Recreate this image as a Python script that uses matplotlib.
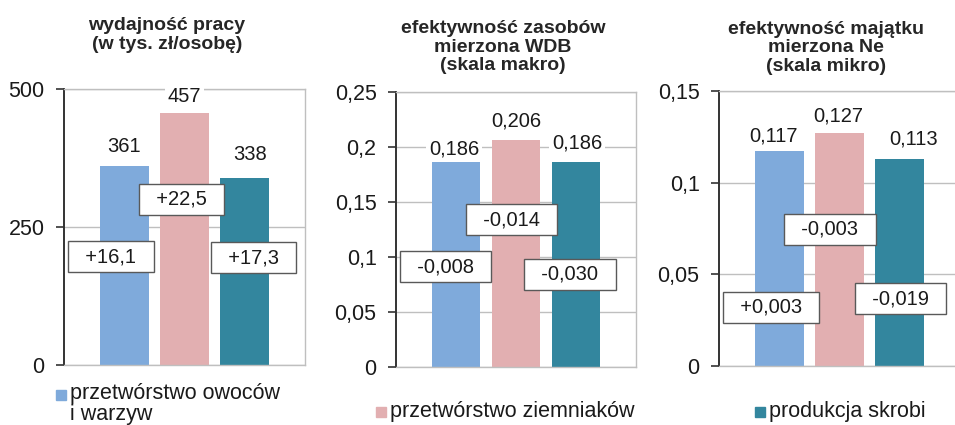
import matplotlib.pyplot as plt
from matplotlib.patches import Rectangle

plt.rcParams['font.family'] = ['Liberation Sans', 'DejaVu Sans']

# dane
kategorie = ['przetwórstwo owoców\ni warzyw', 'przetwórstwo ziemniaków', 'produkcja skrobi']
kolory = ['#7FAADB', '#E2AFB1', '#33869E']

tytuly = ['wydajność pracy\n(w tys. zł/osobę)',
          'efektywność zasobów\nmierzona WDB\n(skala makro)',
          'efektywność majątku\nmierzona Ne\n(skala mikro)']

wydajnosc = [361, 457, 338]
wdb = [0.186, 0.206, 0.186]
ne = [0.117, 0.127, 0.113]

zmiany_wydajnosc = ['+16,1', '+22,5', '+17,3']
zmiany_wdb = ['-0,008', '-0,014', '-0,030']
zmiany_ne = ['+0,003', '-0,003', '-0,019']

ticki = [[0, 250, 500],
         [0, 0.05, 0.1, 0.15, 0.2, 0.25],
         [0, 0.05, 0.1, 0.15]]
ticki_txt = [['0', '250', '500'],
             ['0', '0,05', '0,1', '0,15', '0,2', '0,25'],
             ['0', '0,05', '0,1', '0,15']]
ymax = [500, 0.25, 0.15]

# rozmieszczenie (piksele / wspolrzedne danych)
W, H = 955, 425
osie_px = [(64, 89, 305, 365), (396, 92, 636, 367), (719, 91, 960, 366)]
tytul_x = [167, 503, 826]
tytul_y = [35, 47, 48]
# przesuniecia etykiet wartosci nad slupkami (px)
etyk_dx = [[0, 0, 5], [-2, 0, 1], [-6, -1, 14]]
etyk_dy = [[19, 16, 24], [13, 19, 19], [15, 17, 20]]
# srodki ramek ze zmianami (x w kategoriach, y w danych)
ramki_x = [[-0.22, 0.95, 2.14], [-0.18, 0.93, 1.9], [-0.14, 0.84, 2.01]]
ramki_y = [[196, 300, 194], [0.091, 0.134, 0.0845], [0.032, 0.0745, 0.0366]]

wartosci = [wydajnosc, wdb, ne]
zmiany = [zmiany_wydajnosc, zmiany_wdb, zmiany_ne]

fig = plt.figure(figsize=(W / 100, H / 100), dpi=100)

szary = '#BFBFBF'
for i in range(3):
    l, t, r, b = osie_px[i]
    ax = fig.add_axes([l / W, (H - b) / H, (r - l) / W, (b - t) / H])
    x = range(3)
    ax.bar(x, wartosci[i], width=0.81, color=kolory, zorder=2)
    ax.set_xlim(-1, 3)
    ax.set_ylim(0, ymax[i])
    ax.set_yticks(ticki[i])
    ax.set_yticklabels(ticki_txt[i], fontsize=15.5, color='#1a1a1a')
    ax.set_xticks([])
    ax.yaxis.grid(True, color=szary, lw=1, zorder=0)
    ax.set_axisbelow(True)
    for s in ['top', 'right', 'bottom']:
        ax.spines[s].set_color(szary)
        ax.spines[s].set_linewidth(1)
    ax.spines['left'].set_color('#333333')
    ax.spines['left'].set_linewidth(1.4)
    ax.tick_params(axis='y', length=6, width=1.2, color='#333333', pad=8)

    for j in range(3):
        v = wartosci[i][j]
        txt = str(v).replace('.', ',')
        ax.annotate(txt, (j, v), xytext=(etyk_dx[i][j], etyk_dy[i][j]),
                    textcoords='offset pixels', ha='center', va='center',
                    fontsize=14.5, color='#1a1a1a', zorder=4,
                    bbox=dict(boxstyle='square,pad=0.15', fc='white', ec='none'))
        ax.text(ramki_x[i][j], ramki_y[i][j], '  ' + zmiany[i][j] + '  ',
                ha='center', va='center', fontsize=14.5, color='#1a1a1a', zorder=5,
                bbox=dict(boxstyle='square,pad=0.3', fc='white', ec='#595959', lw=1))

    fig.text(tytul_x[i] / W, 1 - tytul_y[i] / H, tytuly[i], ha='center', va='center',
             fontsize=14, fontweight='bold', color='#262626', linespacing=1.15)

# legenda
leg_x = [56, 376, 755]
leg_y = [395, 412, 412]
for k in range(3):
    fig.add_artist(Rectangle(((leg_x[k]) / W, 1 - (leg_y[k] + 5) / H), 10 / W, 10 / H,
                             transform=fig.transFigure, color=kolory[k]))
    if k == 0:
        fig.text((leg_x[k] + 14) / W, 1 - (leg_y[k] - 12) / H, kategorie[k], ha='left', va='top',
                 fontsize=15.5, color='#1a1a1a', linespacing=1.02)
    else:
        fig.text((leg_x[k] + 14) / W, 1 - leg_y[k] / H, kategorie[k], ha='left', va='center',
                 fontsize=15.5, color='#1a1a1a')

fig.savefig('out.png', dpi=100)
